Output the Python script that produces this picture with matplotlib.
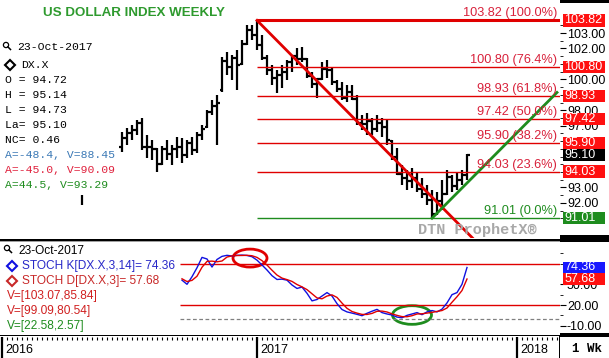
import matplotlib
matplotlib.use("Agg")
import matplotlib.pyplot as plt
import matplotlib.transforms as mtransforms
from matplotlib.patches import Rectangle, Ellipse, Circle
from matplotlib.lines import Line2D

W, H = 609, 358

# weekly bars, week index 0 = 27-Jun-2016, 69 = 23-Oct-2017
opens = [95.6, 96.2, 96.5, 96.7, 97.2, 95.6, 95.6, 95.5, 94.5, 95.5, 95.2, 95.5, 95.6, 95.1, 95.9,
         95.4, 96.4, 96.9, 97.9, 98.3, 99.3, 101.2, 100.8, 101.4, 101.0, 102.3, 103.2, 102.9, 102.2,
         101.4, 100.6, 100.1, 100.3, 100.5, 101.1, 101.5, 101.3, 101.3, 100.2, 99.7, 100.0, 100.7,
         100.6, 99.8, 99.4, 98.8, 99.2, 98.7, 97.2, 97.1, 97.3, 96.8, 97.2, 96.9, 96.0, 95.0, 93.9,
         93.6, 93.4, 93.6, 92.9, 92.6, 92.2, 91.3, 92.1, 92.6, 93.7, 93.1, 93.5, 93.8]
highs = [96.59, 96.85, 97.05, 97.37, 97.50, 96.40, 96.08, 95.56, 95.69, 96.08, 95.75, 96.27, 96.20,
         96.08, 96.27, 96.59, 97.05, 98.02, 98.66, 98.99, 101.45, 101.77, 101.58, 101.90, 102.55,
         103.52, 103.52, 103.82, 102.87, 101.58, 100.93, 100.61, 100.93, 101.25, 101.58, 102.03,
         102.09, 101.38, 100.48, 100.09, 101.12, 101.25, 100.73, 99.96, 99.83, 99.63, 99.63, 98.99,
         97.69, 97.82, 97.50, 97.69, 97.50, 97.37, 96.08, 95.56, 94.46, 94.13, 94.26, 94.00, 93.61,
         93.16, 92.84, 92.71, 93.49, 94.13, 93.81, 94.00, 94.13, 95.14]
lows = [95.30, 95.75, 96.08, 96.40, 95.43, 94.91, 94.78, 94.00, 94.46, 94.78, 94.46, 94.91, 94.59,
        94.91, 95.10, 95.23, 96.08, 96.85, 97.69, 95.75, 99.18, 100.28, 99.96, 99.31, 100.93, 102.22,
        102.55, 101.90, 101.25, 100.28, 99.63, 99.12, 99.44, 99.96, 100.48, 100.93, 101.12, 100.09,
        99.44, 98.79, 99.96, 100.09, 99.63, 99.18, 98.66, 98.53, 98.66, 97.05, 96.72, 96.40, 96.40,
        96.59, 96.27, 95.75, 94.78, 93.81, 93.16, 92.84, 92.97, 92.71, 92.32, 91.87, 91.01, 91.22,
        91.54, 92.51, 92.71, 92.84, 93.16, 93.49]
closes = [96.2, 96.5, 96.7, 97.2, 95.6, 95.6, 95.5, 94.5, 95.5, 95.2, 95.5, 95.6, 95.1, 95.9, 95.4,
          96.4, 96.8, 97.9, 98.3, 98.5, 101.2, 100.8, 101.4, 100.9, 102.3, 103.2, 102.9, 102.2, 101.4,
          100.6, 100.1, 100.3, 100.5, 101.1, 101.5, 101.3, 101.3, 100.2, 99.7, 100.0, 100.7, 100.6,
          99.8, 99.4, 98.8, 99.2, 98.7, 97.2, 97.1, 97.3, 96.8, 97.2, 96.9, 96.1, 95.0, 93.9, 93.6,
          93.4, 93.6, 92.9, 92.6, 92.2, 91.3, 92.1, 92.6, 93.7, 93.1, 93.5, 93.8, 95.10]
weeks = list(range(len(closes)))
stray_week, stray_lo, stray_hi = -8, 91.87, 92.51

fib_levels = [103.82, 100.80, 98.93, 97.42, 95.90, 94.03, 91.01]
fib_pcts = [100.0, 76.4, 61.8, 50.0, 38.2, 23.6, 0.0]
fib_start = 27
last_price = 95.10

# trend lines: (start week, start value, value at last bar)
down_trend = (27, 103.82, 90.09)
up_trend = (62, 91.01, 93.29)

# right-axis price labels that stay visible beside the tags
price_ticks = [103, 102, 100, 98, 97, 93, 92]

stoch_weeks = list(range(12, 70))
stoch_k = [56, 50, 61, 74, 89, 86.7, 75, 86, 90.5, 92, 91, 92, 92.3, 91.8, 90, 85, 78, 70.7, 62.5, 57,
           57.5, 56, 49, 44, 46, 37, 26, 28, 33, 38, 33, 22, 13.5, 10, 8.3, 6.5, 4.5, 8, 11, 13.7, 9,
           7, 5.5, 2.5, 1.5, 5, 7, 9, 6, 10, 12, 10, 14, 23, 35, 38, 50, 74.36]
stoch_d = [58, 54, 55.7, 61.7, 74.7, 83.2, 83.6, 82.6, 83.8, 89.5, 91.2, 91.7, 91.8, 92, 91.4, 89,
           84.3, 77.9, 70.4, 63.4, 59, 56.8, 54.2, 49.7, 46.3, 42.3, 36.3, 30.3, 29, 33, 34.7, 31,
           22.8, 15.2, 10.6, 8.3, 6.4, 6.3, 7.8, 10.9, 11.2, 9.9, 7.2, 5, 3.2, 3, 4.5, 7, 7.3, 8.3,
           9.3, 10.7, 12, 15.7, 24, 32, 41, 57.68]
stoch_ticks = [-10, 20, 50]

year_ticks = [-24, 27, 79]
year_labels = ["2016", "2017", "2018"]

RED = "#e00000"
TXTRED = "#d8203a"
GREEN = "#1e8c1e"
BLUE = "#1010e0"
SANS = "Liberation Sans"
MONO = "Liberation Mono"

fig = plt.figure(figsize=(W / 100, H / 100), dpi=100)
px = mtransforms.Affine2D().scale(1 / W, -1 / H).translate(0, 1) + fig.transFigure


def rect(x0, y0, x1, y1):
    return [x0 / W, 1 - y1 / H, (x1 - x0) / W, (y1 - y0) / H]


ax = fig.add_axes(rect(0, 0, 560, 238))
ax_st = fig.add_axes(rect(0, 242, 560, 334))
ax_t = fig.add_axes(rect(0, 337, 560, 358))
for a in (ax, ax_st, ax_t):
    a.set_xlim(-24.4, 87.6)
    for s in a.spines.values():
        s.set_visible(False)
    a.set_xticks([])

# ---- price panel
ax.set_ylim(89.73, 105.14)
ax.vlines(weeks, lows, highs, color="k", lw=1.6)
ax.hlines(opens, [w - 0.5 for w in weeks], weeks, color="k", lw=1.6)
ax.hlines(closes, weeks, [w + 0.5 for w in weeks], color="k", lw=1.6)
ax.vlines([stray_week], [stray_lo], [stray_hi], color="k", lw=1.6)

for lvl, pct in zip(fib_levels, fib_pcts):
    col = GREEN if pct == 0 else RED
    ax.hlines(lvl, fib_start, 88, color=col, lw=2.2 if pct == 100 else 1.0)
    ax.annotate(f"{lvl:.2f} ({pct:.1f}%)", xy=(1, lvl), xycoords=("axes fraction", "data"),
                xytext=(-3, 7), textcoords="offset pixels", ha="right", va="center",
                fontsize=9.2, family=SANS, color=GREEN if pct == 0 else TXTRED)

w0, v0, v1 = down_trend
slope = (v1 - v0) / (weeks[-1] - w0)
ax.plot([w0, 80], [v0, v0 + slope * (80 - w0)], color=RED, lw=2)
w0, v0, v1 = up_trend
slope = (v1 - v0) / (weeks[-1] - w0)
ax.plot([w0, 87], [v0, v0 + slope * (87 - w0)], color=GREEN, lw=2)

ax.yaxis.tick_right()
ax.set_yticks(price_ticks)
ax.set_yticklabels([f"{v:.2f}" for v in price_ticks])
ax.set_yticks([v * 0.5 for v in range(182, 208) if v * 0.5 not in price_ticks], minor=True)
ax.tick_params(axis="y", which="major", labelsize=9, length=4, pad=1)
ax.tick_params(axis="y", which="minor", length=2)
for lab in ax.get_yticklabels():
    lab.set_family(SANS)

bt = mtransforms.blended_transform_factory(ax.transAxes, ax.transData)
tags = [(v, GREEN if p == 0 else "#ff1010") for v, p in zip(fib_levels, fib_pcts)] + [(last_price, "k")]
for v, col in tags:
    ax.add_patch(Rectangle((563 / 560, v - 0.4), 42 / 560, 0.8, transform=bt,
                           facecolor=col, edgecolor="none", clip_on=False, zorder=10))
    ax.text(564.5 / 560, v, f"{v:.2f}", transform=bt, color="white", fontsize=9, family=SANS,
            va="center", ha="left", zorder=11, clip_on=False)

# ---- stochastic panel
ax_st.set_ylim(-22, 111.3)
ax_st.hlines([80, 20], 11.6, 88, color=RED, lw=1.0)
ax_st.hlines(0, 11.6, 88, color="#808080", lw=0.9, linestyles=(0, (3, 2)))
ax_st.plot(stoch_weeks, stoch_k, color=BLUE, lw=1.0)
ax_st.plot(stoch_weeks, stoch_d, color=RED, lw=1.0)
ax_st.add_patch(Ellipse((25.6, 88), 6.8, 26, fill=False, edgecolor=RED, lw=2))
ax_st.add_patch(Ellipse((58, 5.5), 7.8, 27, fill=False, edgecolor=GREEN, lw=2))
ax_st.yaxis.tick_right()
ax_st.set_yticks(stoch_ticks)
ax_st.set_yticklabels([f"{v:.2f}" for v in stoch_ticks])
ax_st.set_yticks([5, 35, 80, 95], minor=True)
ax_st.tick_params(axis="y", which="major", labelsize=9, length=4, pad=1)
ax_st.tick_params(axis="y", which="minor", length=2)
for lab in ax_st.get_yticklabels():
    lab.set_family(SANS)
bt2 = mtransforms.blended_transform_factory(ax_st.transAxes, ax_st.transData)
for v, col in [(stoch_k[-1], "#1818ff"), (stoch_d[-1], "#ff1010")]:
    ax_st.add_patch(Rectangle((563 / 560, v - 8.5), 42 / 560, 17, transform=bt2,
                              facecolor=col, edgecolor="none", clip_on=False, zorder=10))
    ax_st.text(564.5 / 560, v, f"{v:.2f}", transform=bt2, color="white", fontsize=9, family=SANS,
               va="center", ha="left", zorder=11, clip_on=False)

# ---- time axis
ax_t.set_ylim(0, 1)
ax_t.set_yticks([])
ax_t.set_xticks(range(-24, 88), minor=True)
ax_t.tick_params(axis="x", which="minor", top=True, bottom=False, direction="in", length=2.5, width=0.8)
ax_t.vlines(year_ticks, 0, 1, color="k", lw=1.6)
for x, lab in zip(year_ticks, year_labels):
    ax_t.text(x + 0.6, 0.38, lab, fontsize=9, family=SANS, va="center", ha="left")

# ---- frame pieces
for x0, y0, x1, y1, c in [(560, 0, 609, 3, "k"), (560, 235, 609, 242, "k"), (0, 239, 560, 240.5, "k"),
                          (0, 241, 560, 242, "#a0a0a0"), (560, 333, 609, 337, "k"),
                          (0, 335, 560, 336.3, "k"), (559, 336, 560.3, 358, "k")]:
    fig.add_artist(Rectangle((x0, y0), x1 - x0, y1 - y0, transform=px, facecolor=c, edgecolor="none"))

fig.text(572, 349, "1 Wk", transform=px, fontsize=9, family=MONO, weight="bold", va="center")

# ---- titles / legends
fig.text(43, 13, "US DOLLAR INDEX WEEKLY", transform=px, fontsize=9.6, family=SANS, weight="bold",
         color="#2e9a2e", va="center")
fig.text(418, 230, "DTN ProphetX\u00ae", transform=px, fontsize=11, family=MONO, weight="bold",
         color="#a8a8a8", va="center")


def magnifier(x, y):
    fig.add_artist(Circle((x, y), 2.6, transform=px, fill=False, edgecolor="k", lw=0.9))
    fig.add_artist(Line2D([x + 1.9, x + 4.5], [y + 1.9, y + 4.5], transform=px, color="k", lw=1.1))


def diamond(x, y, col):
    fig.add_artist(Line2D([x], [y], transform=px, marker="D", markersize=5, mfc="white",
                          mec=col, mew=1.5, ls="none"))


magnifier(6, 45)
fig.text(17, 47, "23-Oct-2017", transform=px, fontsize=8.2, family=MONO, va="center")
diamond(10, 65, "k")
fig.text(21, 65, "DX.X", transform=px, fontsize=8.2, family=MONO, va="center")
top_lines = [("O = 94.72", "k"), ("H = 95.14", "k"), ("L = 94.73", "k"), ("La= 95.10", "k"),
             ("NC= 0.46", "k"), ("A=-48.4, V=88.45", "#3a78b5"), ("A=-45.0, V=90.09", "#e0203c"),
             ("A=44.5, V=93.29", GREEN)]
for n, (t, c) in enumerate(top_lines):
    fig.text(5, 80 + 15 * n, t, transform=px, fontsize=8.2, family=MONO, color=c, va="center")

magnifier(7, 248)
fig.text(18, 251, "23-Oct-2017", transform=px, fontsize=8.6, family=SANS, va="center")
diamond(12, 266, BLUE)
fig.text(22, 266, "STOCH K[DX.X,3,14]= 74.36", transform=px, fontsize=8.6, family=SANS,
         color="#2828c8", va="center")
diamond(12, 281, "#c82828")
fig.text(22, 281, "STOCH D[DX.X,3]= 57.68", transform=px, fontsize=8.6, family=SANS,
         color="#c82828", va="center")
for n, (t, c) in enumerate([("V=[103.07,85.84]", "#d02020"), ("V=[99.09,80.54]", "#d02020"),
                            ("V=[22.58,2.57]", GREEN)]):
    fig.text(7, 296 + 15 * n, t, transform=px, fontsize=8.6, family=SANS, color=c, va="center")

fig.savefig("out.png", dpi=100)
